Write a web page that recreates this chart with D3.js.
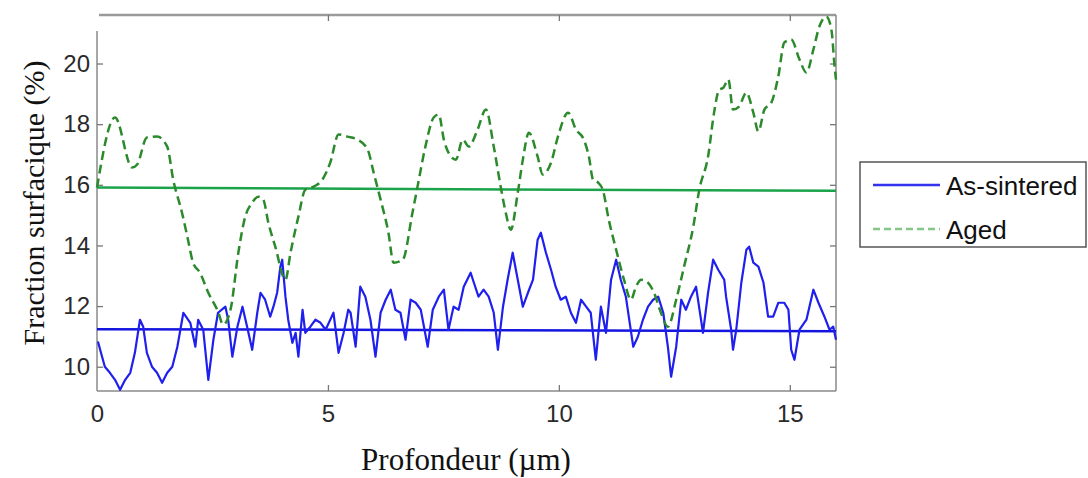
<!DOCTYPE html>
<html><head><meta charset="utf-8">
<script src="https://cdn.jsdelivr.net/npm/d3@7"></script>
<style>body{margin:0;background:#fff}svg{display:block}</style>
</head><body>
<svg id="c" width="1088" height="478"></svg>
<script>
const xTicks = [0, 5, 10, 15];
const yTicks = [10, 12, 14, 16, 18, 20];
const seriesNames = ["As-sintered", "Aged"];
const agedX = [0,0.39,0.76,0.87,1.08,1.30,1.52,1.65,1.84,1.97,2.08,2.23,2.41,2.62,2.73,2.89,3.06,3.21,3.36,3.49,3.60,3.71,3.86,4.08,4.19,4.36,4.51,4.69,4.88,5.05,5.23,5.42,5.64,5.86,5.99,6.14,6.31,6.42,6.62,6.83,6.94,7.11,7.29,7.40,7.51,7.61,7.77,7.92,8.05,8.24,8.42,8.59,8.74,8.85,8.96,9.11,9.22,9.35,9.54,9.65,9.83,9.98,10.20,10.37,10.54,10.65,10.74,10.85,10.95,11.08,11.24,11.41,11.56,11.67,11.78,11.93,12.06,12.21,12.36,12.54,12.71,12.91,13.04,13.23,13.36,13.47,13.56,13.67,13.77,13.90,14.06,14.21,14.32,14.45,14.60,14.75,14.88,15.03,15.21,15.36,15.51,15.64,15.79,15.90,15.97,16.0];
const agedY = [15.91,18.22,16.57,16.67,17.56,17.59,17.26,16.17,15.08,14.19,13.43,13.10,12.44,11.82,11.39,11.88,13.76,14.95,15.41,15.61,15.51,14.75,13.96,12.87,13.76,14.95,15.84,15.94,16.17,16.73,17.66,17.59,17.49,17.16,16.40,15.51,14.42,13.43,13.53,15.08,15.94,17.26,18.22,18.32,17.49,17.06,16.83,17.49,17.26,17.82,18.48,17.26,15.94,15.08,14.52,15.74,16.83,17.72,16.93,16.34,16.73,17.59,18.38,17.82,17.49,16.93,16.17,16.07,15.84,14.85,13.86,12.87,12.21,12.64,12.87,12.77,12.44,11.78,11.32,12.21,13.30,14.62,15.84,16.93,18.38,19.14,19.20,19.47,18.48,18.58,19.04,18.38,17.76,18.48,18.71,19.57,20.69,20.79,20.13,19.70,20.46,21.22,21.55,21.12,19.90,19.47];
const sinteredX = [0.02,0.11,0.17,0.28,0.39,0.50,0.61,0.72,0.82,0.93,1.00,1.08,1.19,1.30,1.41,1.52,1.63,1.74,1.87,2.02,2.13,2.19,2.30,2.41,2.52,2.62,2.78,2.84,2.93,3.04,3.15,3.25,3.36,3.47,3.54,3.64,3.75,3.82,3.90,3.97,4.01,4.08,4.14,4.23,4.30,4.36,4.45,4.51,4.62,4.73,4.84,4.95,5.05,5.12,5.23,5.34,5.44,5.49,5.60,5.70,5.81,5.92,6.03,6.14,6.25,6.36,6.46,6.57,6.68,6.79,6.90,7.01,7.16,7.27,7.40,7.51,7.61,7.72,7.83,7.94,8.09,8.16,8.26,8.37,8.48,8.59,8.68,8.79,8.89,9.00,9.11,9.22,9.33,9.44,9.54,9.61,9.72,9.83,9.93,10.04,10.15,10.26,10.37,10.48,10.59,10.69,10.80,10.91,11.02,11.13,11.24,11.34,11.45,11.61,11.71,11.82,11.93,12.04,12.15,12.26,12.36,12.43,12.54,12.65,12.75,12.86,12.97,13.12,13.23,13.34,13.45,13.58,13.62,13.73,13.77,13.84,13.95,14.06,14.12,14.21,14.32,14.43,14.53,14.64,14.75,14.88,14.97,15.03,15.10,15.21,15.36,15.51,15.62,15.75,15.86,15.94,16.0];
const sinteredY = [10.83,10.33,10.00,9.80,9.57,9.24,9.57,9.80,10.46,11.55,11.32,10.46,10.00,9.80,9.47,9.80,10.00,10.66,11.78,11.45,10.66,11.55,11.22,9.57,10.89,11.78,11.98,11.55,10.33,11.32,11.98,11.32,10.56,11.78,12.44,12.21,11.65,11.98,12.44,13.30,13.53,12.31,11.55,10.79,11.12,10.33,11.88,11.12,11.32,11.55,11.45,11.22,11.55,11.78,10.46,11.12,11.88,11.78,10.66,12.64,12.31,11.55,10.33,11.78,12.21,12.54,11.88,11.78,10.89,12.21,12.11,11.88,10.66,11.88,12.31,12.54,11.22,11.98,11.88,12.64,13.10,12.77,12.31,12.54,12.31,11.78,10.56,11.98,12.87,13.76,12.87,11.98,12.44,12.87,14.19,14.42,13.76,13.20,12.64,12.21,12.31,11.78,11.45,12.21,11.98,11.78,10.23,11.98,11.12,12.87,13.53,12.87,12.31,10.66,10.99,11.55,11.98,12.21,12.31,11.78,10.66,9.67,10.66,12.21,11.88,12.31,12.64,11.12,12.44,13.53,13.20,12.87,12.31,11.22,10.56,11.22,12.77,13.86,13.96,13.43,13.30,12.77,11.65,11.65,12.11,12.11,11.88,10.56,10.23,11.22,11.55,12.54,12.11,11.65,11.22,11.32,10.89];
const meanX = [0, 16];
const agedMean = [15.91, 15.8];
const sinteredMean = [11.24, 11.17];

const svg = d3.select("#c");
const L = 97, R = 836, T = 15, B = 391;
const x = d3.scaleLinear().domain([0, 16]).range([L, R]);
const y = d3.scaleLinear().domain([9.2, 21.6]).range([B, T]);
const axisCol = "#8a8a8a";

// frame
svg.append("line").attr("x1", L+2).attr("x2", R).attr("y1", T).attr("y2", T).attr("stroke", "#9a9a9a").attr("stroke-width", 2.5);
svg.append("line").attr("x1", R).attr("x2", R).attr("y1", T).attr("y2", B).attr("stroke", axisCol).attr("stroke-width", 1.5);
svg.append("line").attr("x1", L).attr("x2", L).attr("y1", 31).attr("y2", B).attr("stroke", axisCol).attr("stroke-width", 1.5);
svg.append("line").attr("x1", L).attr("x2", R).attr("y1", B).attr("y2", B).attr("stroke", axisCol).attr("stroke-width", 1.5);

// axes via d3
const fontSans = "'Liberation Sans', Arial, sans-serif";
const xAxis = svg.append("g").attr("transform", `translate(0,${B})`)
  .call(d3.axisBottom(x).tickValues(xTicks).tickSize(-6).tickPadding(14).tickFormat(d3.format("d")));
const yAxis = svg.append("g").attr("transform", `translate(${L},0)`)
  .call(d3.axisLeft(y).tickValues(yTicks).tickSize(-6).tickPadding(7).tickFormat(d3.format("d")));
const xTop = svg.append("g").attr("transform", `translate(0,${T})`)
  .call(d3.axisTop(x).tickValues(xTicks.filter(d => d > 0)).tickSize(-6).tickFormat(""));
const yRight = svg.append("g").attr("transform", `translate(${R},0)`)
  .call(d3.axisRight(y).tickValues(yTicks).tickSize(-6).tickFormat(""));
[xAxis, yAxis, xTop, yRight].forEach(g => {
  g.select(".domain").remove();
  g.selectAll(".tick line").attr("stroke", "#777").attr("stroke-width", 1.3);
  g.selectAll("text").attr("fill", "#2a2a2a").style("font-family", fontSans).style("font-size", "24px");
});
xAxis.selectAll(".tick").filter(d => d === 0).select("line").remove();

// mean lines
const line = d3.line().x(d => x(d[0])).y(d => y(d[1]));
svg.append("path").datum(meanX.map((v, i) => [v, agedMean[i]])).attr("d", line)
  .attr("fill", "none").attr("stroke", "#1aa34a").attr("stroke-width", 2.5);
svg.append("path").datum(meanX.map((v, i) => [v, sinteredMean[i]])).attr("d", line)
  .attr("fill", "none").attr("stroke", "#1515e0").attr("stroke-width", 2.5);

// series
const cl = svg.append("g");
cl.append("path").datum(sinteredX.map((v, i) => [v, sinteredY[i]])).attr("d", line)
  .attr("fill", "none").attr("stroke", "#1f1fee").attr("stroke-width", 2.2).attr("stroke-linejoin", "round");
cl.append("path").datum(agedX.map((v, i) => [v, agedY[i]])).attr("d", d3.line().x(d => x(d[0])).y(d => y(d[1])).curve(d3.curveMonotoneX))
  .attr("fill", "none").attr("stroke", "#2b8a2b").attr("stroke-width", 2.5).attr("stroke-dasharray", "9,5");

// axis titles
const fontSerif = "'Liberation Serif', 'Times New Roman', serif";
svg.append("text").attr("x", 466).attr("y", 470).attr("text-anchor", "middle")
  .style("font-family", fontSerif).style("font-size", "31px").attr("fill", "#111").text("Profondeur (µm)");
svg.append("text").attr("transform", "translate(44,203) rotate(-90)").attr("text-anchor", "middle")
  .style("font-family", fontSerif).style("font-size", "30px").attr("fill", "#111").text("Fraction surfacique (%)");

// legend
const lg = svg.append("g");
lg.append("rect").attr("x", 860).attr("y", 162).attr("width", 226).attr("height", 85)
  .attr("fill", "#fff").attr("stroke", "#555").attr("stroke-width", 1.5);
const legColors = ["#3333ee", "#86c686"];
const legDash = [null, "7,4"];
const legLineY = [185, 229];
seriesNames.forEach((n, i) => {
  const yy = legLineY[i];
  lg.append("line").attr("x1", 873).attr("x2", 940).attr("y1", yy).attr("y2", yy)
    .attr("stroke", legColors[i]).attr("stroke-width", 2.5).attr("stroke-dasharray", legDash[i]);
  lg.append("text").attr("x", 946).attr("y", yy + 10).style("font-family", fontSans).style("font-size", "26px")
    .attr("fill", "#111").text(n);
});
</script>
</body></html>
